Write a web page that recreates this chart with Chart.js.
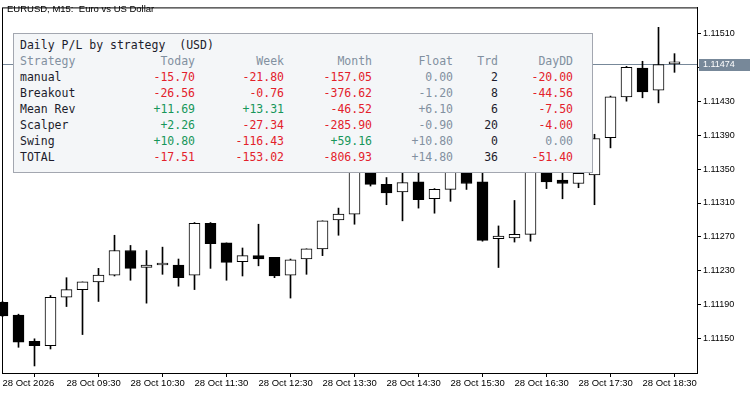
<!DOCTYPE html>
<html><head><meta charset="utf-8">
<script src="https://cdn.jsdelivr.net/npm/chart.js@4.4.1/dist/chart.umd.min.js"></script>
<style>
html,body{margin:0;padding:0;background:#fff;}
#wrap{position:relative;width:750px;height:394px;overflow:hidden;background:#fff;}
#c{position:absolute;left:0;top:0;}
#title{position:absolute;left:7px;top:3px;font:9.5px "Liberation Sans",Arial,sans-serif;color:#000;white-space:pre;}
#panel{position:absolute;left:13px;top:33px;width:578px;height:138px;background:#f4f6f8;border:1px solid #a3a7b0;font:11.5px "DejaVu Sans Mono",monospace;}
.t{position:absolute;white-space:pre;line-height:16px;height:16px;}
</style></head><body>
<div id="wrap"><canvas id="c" width="750" height="394"></canvas>
<div id="title">EURUSD, M15:  Euro vs US Dollar</div>
<div id="panel"></div></div>
<script>
// ---- candle data (EURUSD M15) ----
const opens  = [1.11193,1.11178,1.11147,1.11142,1.11199,1.11208,1.11217,1.11225,1.11254,1.11234,1.11237,1.11237,1.11225,1.11286,1.11263,1.11241,1.11248,1.11246,1.11225,1.11244,1.11256,1.11290,1.11297,1.11351,1.11332,1.11323,1.11335,1.11315,1.11326,1.11350,1.11335,1.11268,1.11269,1.11273,1.11357,1.11337,1.11333,1.11343,1.11387,1.11435,1.11469,1.11443,1.11474];
const highs  = [1.11194,1.11179,1.11150,1.11201,1.11222,1.11217,1.11233,1.11272,1.11260,1.11254,1.11258,1.11244,1.11287,1.11287,1.11263,1.11257,1.11285,1.11246,1.11244,1.11256,1.11289,1.11304,1.11357,1.11359,1.11340,1.11348,1.11345,1.11327,1.11357,1.11357,1.11348,1.11283,1.11313,1.11363,1.11369,1.11351,1.11351,1.11391,1.11436,1.11471,1.11477,1.11517,1.11486];
const lows   = [1.11176,1.11140,1.11118,1.11138,1.11188,1.11155,1.11194,1.11224,1.11219,1.11192,1.11226,1.11212,1.11208,1.11233,1.11219,1.11224,1.11236,1.11222,1.11198,1.11226,1.11248,1.11272,1.11285,1.11330,1.11308,1.11289,1.11304,1.11298,1.11312,1.11326,1.11265,1.11234,1.11264,1.11265,1.11327,1.11315,1.11328,1.11308,1.11375,1.11430,1.11434,1.11428,1.11464];
const closes = [1.11177,1.11146,1.11142,1.11199,1.11208,1.11217,1.11225,1.11254,1.11233,1.11237,1.11237,1.11222,1.11286,1.11262,1.11240,1.11248,1.11244,1.11224,1.11243,1.11256,1.11289,1.11297,1.11351,1.11332,1.11322,1.11334,1.11314,1.11326,1.11351,1.11333,1.11266,1.11271,1.11273,1.11357,1.11335,1.11333,1.11345,1.11386,1.11435,1.11470,1.11441,1.11473,1.11474];
const timeTickIdx = [0,4,8,12,16,20,24,28,32,36,40];
const timeLabels  = ['28 Oct 2026','28 Oct 09:30','28 Oct 10:30','28 Oct 11:30','28 Oct 12:30','28 Oct 13:30','28 Oct 14:30','28 Oct 15:30','28 Oct 16:30','28 Oct 17:30','28 Oct 18:30'];
const priceTicks  = [1.11150,1.11190,1.11230,1.11270,1.11310,1.11350,1.11390,1.11430,1.11470,1.11510];
const bidPrice = 1.11474;

// ---- panel data ----
const panelTitle = 'Daily P/L by strategy  (USD)';
const headers    = ['Strategy','Today','Week','Month','Float','Trd','DayDD'];
const strategies = ['manual','Breakout','Mean Rev','Scalper','Swing','TOTAL'];
const todayPL    = [-15.70,-26.56,11.69,2.26,10.80,-17.51];
const weekPL     = [-21.80,-0.76,13.31,-27.34,-116.43,-153.02];
const monthPL    = [-157.05,-376.62,-46.52,-285.90,59.16,-806.93];
const floatPL    = [0.00,-1.20,6.10,-0.90,10.80,14.80];
const trades     = [2,8,6,20,0,36];
const dayDD      = [-20.00,-44.56,-7.50,-4.00,0.00,-51.40];

// ---- build panel ----
const panel = document.getElementById('panel');
const RED='#e3212b', GREEN='#17965a', GRAY='#8290a0', DARK='#1c1c2c';
const colRight = [null,397,308,220,139,94,19];
function addText(txt,row,color,left,right){
  const d=document.createElement('div'); d.className='t'; d.textContent=txt;
  d.style.top=(3+16*row)+'px'; d.style.color=color;
  if(left!=null) d.style.left=left+'px'; else d.style.right=right+'px';
  panel.appendChild(d);
}
function fmt(v){ if(v===0) return '0.00'; return (v>0?'+':'')+v.toFixed(2); }
function col(v){ return v>0?GREEN:(v<0?RED:GRAY); }
addText(panelTitle,0,DARK,6,null);
headers.forEach((h,i)=>{ if(i===0) addText(h,1,GRAY,6,null); else addText(h,1,GRAY,null,colRight[i]); });
strategies.forEach((s,r)=>{
  const row=r+2;
  addText(s,row,DARK,6,null);
  addText(fmt(todayPL[r]),row,col(todayPL[r]),null,colRight[1]);
  addText(fmt(weekPL[r]),row,col(weekPL[r]),null,colRight[2]);
  addText(fmt(monthPL[r]),row,col(monthPL[r]),null,colRight[3]);
  addText(fmt(floatPL[r]),row,GRAY,null,colRight[4]);
  addText(String(trades[r]),row,DARK,null,colRight[5]);
  addText(fmt(dayDD[r]),row,dayDD[r]<0?RED:GRAY,null,colRight[6]);
});

// ---- chart ----
const wickData = lows.map((l,i)=>({x:i,y:[l,highs[i]]}));
const bodyData = opens.map((o,i)=>({x:i,y:[o,closes[i]]}));
const bodyColors = opens.map((o,i)=> closes[i] >= o ? '#ffffff' : '#000000');

const extras = {
  id:'extras',
  beforeDatasetsDraw(chart){
    const {ctx, chartArea:a, scales:{y}} = chart;
    const py = Math.round(y.getPixelForValue(bidPrice)) + 0.5;
    ctx.save(); ctx.strokeStyle='#778899'; ctx.lineWidth=1;
    ctx.beginPath(); ctx.moveTo(a.left, py); ctx.lineTo(a.right, py); ctx.stroke(); ctx.restore();
  },
  afterDraw(chart){
    const {ctx, chartArea:a, scales:{y}} = chart;
    ctx.save();
    ctx.strokeStyle='#000'; ctx.lineWidth=1;
    ctx.strokeRect(a.left+0.5, a.top+0.5, a.right-a.left, a.bottom-a.top);
    const py = Math.round(y.getPixelForValue(bidPrice));
    ctx.fillStyle='#778899'; ctx.fillRect(a.right+2, py-5, 750-a.right-2, 12);
    ctx.fillStyle='#ffffff'; ctx.font='9px "Liberation Sans"'; ctx.textBaseline='middle'; ctx.textAlign='left';
    ctx.fillText(bidPrice.toFixed(5), a.right+6, py+1);
    ctx.restore();
  }
};

new Chart(document.getElementById('c'), {
  type:'bar',
  data:{ datasets:[
    { data:bodyData, backgroundColor:bodyColors, borderColor:'#000', borderWidth:1, borderSkipped:false,
      maxBarThickness:11, barPercentage:1, categoryPercentage:1, minBarLength:2, grouped:false, order:0, clip:false },
    { data:wickData, backgroundColor:'#000', borderWidth:0, maxBarThickness:1, barPercentage:1, categoryPercentage:1,
      grouped:false, order:1, clip:false }
  ]},
  options:{
    responsive:false, animation:false, events:[],
    layout:{ padding:{ left:2, top:2, right:0, bottom:0 } },
    plugins:{ legend:{display:false}, tooltip:{enabled:false}, title:{display:false} },
    scales:{
      x:{ type:'linear', min:-0.03125, max:43.40625, offset:false,
        afterBuildTicks:(s)=>{ s.ticks = timeTickIdx.map(v=>({value:v})); },
        afterFit:(s)=>{ s.height = 21; },
        grid:{ display:true, drawOnChartArea:false, drawTicks:true, tickLength:4, color:'#000' },
        border:{ display:true, color:'#000' },
        ticks:{ autoSkip:false, maxRotation:0, minRotation:0, align:'start', padding:1, color:'#000',
          font:{ family:'Liberation Sans', size:9.5 },
          callback:(v,i)=> timeLabels[i] }
      },
      y:{ type:'linear', position:'right', min:1.111097, max:1.115405,
        afterBuildTicks:(s)=>{ s.ticks = priceTicks.map(v=>({value:v})); },
        afterFit:(s)=>{ s.width = 53; },
        grid:{ display:true, drawOnChartArea:false, drawTicks:true, tickLength:4, color:'#000' },
        border:{ display:true, color:'#000' },
        ticks:{ padding:2, color:'#000', font:{ family:'Liberation Sans', size:9 },
          callback:(v)=> Number(v).toFixed(5) }
      }
    }
  },
  plugins:[extras]
});
</script>
</body></html>
